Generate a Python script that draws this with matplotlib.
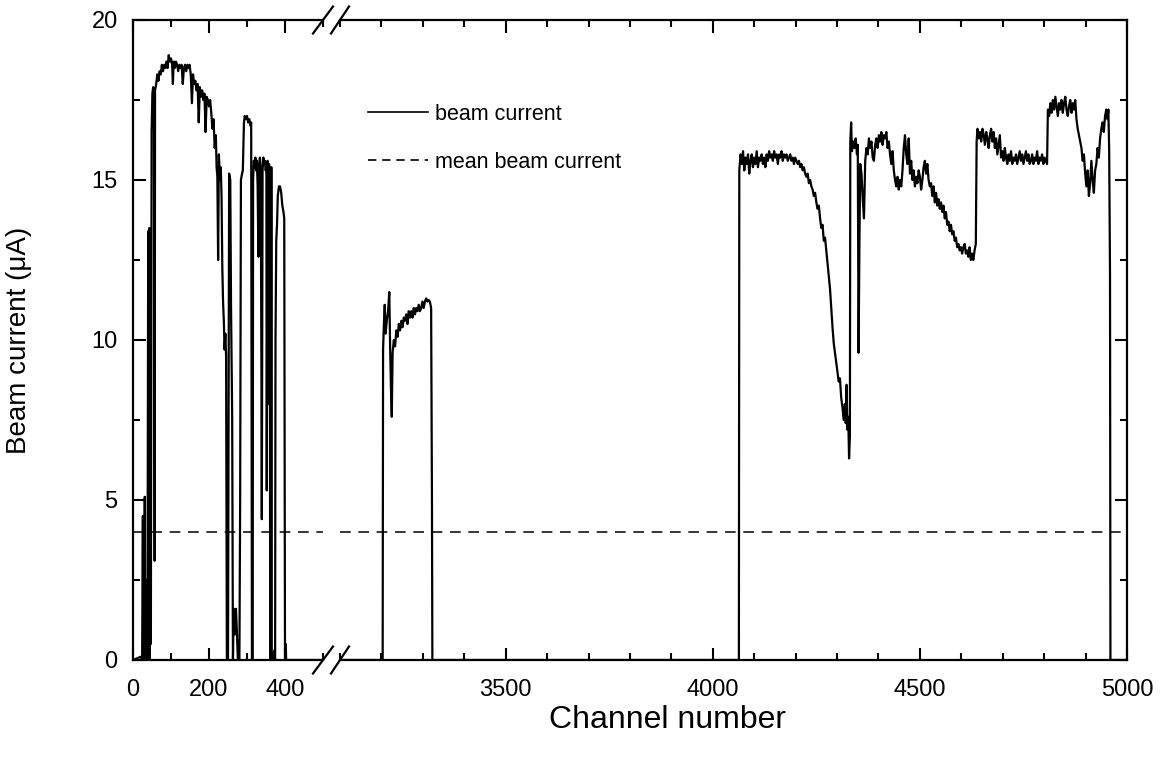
import numpy as np
import matplotlib.pyplot as plt
from matplotlib.lines import Line2D
from matplotlib.ticker import MultipleLocator, FormatStrFormatter

plt.rcParams['font.family'] = ['Liberation Sans', 'DejaVu Sans']

# first run (channels 0-400)
run1_channel = [0, 20, 24, 26, 27, 29, 31, 32, 34, 35, 37, 38, 40, 41, 43, 44, 46, 47, 49, 51,
                53, 55, 57, 58, 61, 64, 67, 70, 73, 76, 79, 82, 85, 88, 91, 94, 97, 100, 103, 105,
                107, 110, 113, 116, 119, 122, 125, 128, 131, 134, 137, 140, 143, 146, 149, 152, 155, 158, 161, 164,
                167, 170, 173, 176, 179, 182, 185, 188, 191, 194, 197, 200, 203, 206, 209, 212, 215, 218, 220, 222,
                224, 226, 229, 231, 233, 235, 237, 239, 241, 243, 245, 247, 250, 253, 256, 258, 261, 263, 265, 268,
                271, 273, 276, 280, 282, 284, 287, 289, 292, 294, 297, 300, 303, 306, 309, 311, 313, 315, 316, 318,
                320, 322, 324, 326, 328, 330, 332, 334, 336, 338, 339, 341, 343, 345, 347, 349, 351, 352, 354, 356,
                358, 360, 361, 363, 364, 365, 368, 372, 374, 375, 377, 379, 381, 384, 387, 390, 393, 396, 398, 400,
                402, 403]
run1_current = [0, 0.1, 0, 4.5, 0, 0.4, 5.1, 0, 2.5, 0, 1.5, 0, 13.4, 0.3, 13.5, 0, 9.5, 0.5, 16.5, 17.7,
                17.9, 17.7, 3.1, 17.8, 18.0, 18.3, 18.1, 18.4, 18.3, 18.6, 18.4, 18.6, 18.5, 18.7, 18.5, 18.9, 18.7, 18.8, 18.6, 18.0,
                18.7, 18.5, 18.7, 18.6, 18.4, 18.6, 18.5, 18.6, 18.0, 18.5, 18.6, 18.4, 18.6, 18.5, 18.6, 18.3, 17.4, 18.3, 18.0, 18.1,
                17.8, 18.0, 16.8, 17.9, 17.6, 17.8, 17.5, 17.7, 16.5, 17.6, 17.5, 17.3, 17.5, 17.1, 16.6, 16.9, 16.0, 16.4, 15.4, 15.1,
                12.5, 15.8, 15.0, 15.4, 14.5, 12.3, 11.2, 10.6, 9.7, 10.2, 9.5, 0, 0, 15.2, 15.0, 11.0, 7.6, 0, 1.6, 0.8,
                1.6, 1.0, 0, 0, 5.0, 15.0, 15.2, 15.3, 16.8, 17.0, 16.9, 17.0, 16.8, 16.9, 16.7, 16.8, 0, 0, 15.0, 15.6,
                15.4, 15.7, 15.3, 15.6, 14.8, 12.6, 15.5, 15.7, 15.4, 9.0, 4.4, 15.3, 15.7, 15.5, 15.6, 15.3, 15.4, 5.3, 15.6, 8.0,
                15.5, 15.2, 0, 0, 15.4, 0, 0, 0.3, 0, 10.0, 13.1, 13.6, 14.5, 14.8, 14.8, 14.6, 14.2, 14.0, 13.8, 0,
                0.5, 0]

# second run (channels ~3200-3320)
run2_channel = [3203, 3204, 3206, 3208, 3210, 3213, 3216, 3219, 3221, 3223, 3225, 3227, 3230, 3233, 3236, 3239,
                3242, 3245, 3248, 3251, 3254, 3257, 3260, 3263, 3266, 3269, 3272, 3275, 3278, 3281, 3284, 3287,
                3290, 3293, 3296, 3299, 3302, 3305, 3308, 3311, 3314, 3317, 3320, 3322, 3323]
run2_current = [0, 9.7, 10.5, 11.1, 10.2, 10.6, 10.9, 11.5, 9.8, 8.5, 7.6, 9.6, 10.0, 9.8, 10.3, 10.1,
                10.5, 10.3, 10.6, 10.4, 10.7, 10.6, 10.8, 10.5, 10.9, 10.7, 10.9, 10.7, 11.0, 10.8, 11.0, 10.9,
                11.1, 10.9, 11.0, 11.2, 11.0, 11.2, 11.3, 11.2, 11.25, 11.2, 11.0, 5.0, 0]

# third run (channels ~4064-4960)
run3_channel = [4063, 4064, 4067, 4070, 4073, 4076, 4079, 4082, 4085, 4088, 4091, 4094, 4097, 4100, 4103, 4106,
                4109, 4112, 4115, 4118, 4121, 4124, 4127, 4130, 4133, 4136, 4139, 4142, 4145, 4148, 4151, 4154,
                4157, 4160, 4163, 4166, 4169, 4172, 4175, 4178, 4181, 4184, 4187, 4190, 4193, 4196, 4199, 4202,
                4205, 4208, 4211, 4214, 4217, 4220, 4223, 4226, 4229, 4232, 4235, 4238, 4241, 4244, 4247, 4250,
                4253, 4256, 4259, 4262, 4265, 4268, 4271, 4274, 4277, 4280, 4283, 4286, 4289, 4292, 4295, 4298,
                4301, 4304, 4307, 4310, 4313, 4316, 4319, 4321, 4323, 4325, 4327, 4329, 4331, 4332, 4334, 4336,
                4339, 4342, 4345, 4348, 4350, 4352, 4354, 4356, 4359, 4362, 4365, 4368, 4371, 4374, 4377, 4380,
                4383, 4386, 4389, 4392, 4395, 4398, 4401, 4404, 4407, 4410, 4413, 4416, 4419, 4422, 4425, 4428,
                4431, 4434, 4437, 4440, 4443, 4446, 4449, 4452, 4455, 4458, 4461, 4464, 4467, 4470, 4473, 4476,
                4479, 4482, 4485, 4488, 4491, 4494, 4497, 4500, 4503, 4506, 4509, 4512, 4515, 4518, 4521, 4524,
                4527, 4530, 4533, 4536, 4539, 4542, 4545, 4548, 4551, 4554, 4557, 4560, 4563, 4566, 4569, 4572,
                4575, 4578, 4581, 4584, 4587, 4590, 4593, 4596, 4599, 4602, 4605, 4608, 4611, 4614, 4617, 4620,
                4623, 4626, 4629, 4632, 4635, 4637, 4639, 4642, 4645, 4648, 4651, 4654, 4657, 4660, 4663, 4666,
                4669, 4672, 4675, 4678, 4681, 4684, 4687, 4690, 4693, 4696, 4699, 4702, 4705, 4708, 4711, 4714,
                4717, 4720, 4723, 4726, 4729, 4732, 4735, 4738, 4741, 4744, 4747, 4750, 4753, 4756, 4759, 4762,
                4765, 4768, 4771, 4774, 4777, 4780, 4783, 4786, 4789, 4792, 4795, 4798, 4801, 4804, 4807, 4809,
                4812, 4815, 4818, 4821, 4824, 4827, 4830, 4833, 4836, 4839, 4842, 4845, 4848, 4851, 4854, 4857,
                4860, 4863, 4866, 4869, 4872, 4875, 4878, 4881, 4884, 4887, 4890, 4893, 4896, 4899, 4902, 4905,
                4908, 4911, 4914, 4917, 4920, 4923, 4926, 4929, 4932, 4935, 4938, 4941, 4944, 4947, 4950, 4953,
                4955, 4957, 4959, 4960]
run3_current = [0, 15.3, 15.8, 15.5, 15.9, 15.3, 15.7, 15.5, 15.8, 15.2, 15.6, 15.8, 15.4, 15.7, 15.5, 15.9,
                15.4, 15.7, 15.6, 15.8, 15.5, 15.7, 15.4, 15.8, 15.6, 15.9, 15.7, 15.8, 15.6, 15.9, 15.7, 15.8,
                15.5, 15.8, 15.7, 15.9, 15.6, 15.8, 15.7, 15.8, 15.6, 15.7, 15.8, 15.6, 15.7, 15.5, 15.7, 15.6,
                15.5, 15.6, 15.4, 15.5, 15.3, 15.4, 15.2, 15.1, 15.2, 14.9, 15.0, 14.8, 14.7, 14.5, 14.6, 14.3,
                14.1, 14.2, 13.8, 13.5, 13.6, 13.1, 13.2, 12.8, 12.4, 12.0, 11.6, 11.0, 10.4, 9.9, 9.6, 9.3,
                9.0, 8.7, 8.8, 8.2, 7.9, 7.5, 8.0, 7.4, 8.6, 7.2, 7.6, 6.3, 7.0, 16.2, 16.8, 15.9,
                16.2, 16.0, 16.3, 15.8, 16.1, 9.6, 13.0, 15.5, 15.2, 14.4, 13.8, 15.6, 16.0, 15.8, 16.3, 16.0,
                16.2, 15.7, 15.6, 16.1, 16.3, 16.0, 16.4, 16.2, 16.5, 16.1, 16.4, 16.3, 16.5, 16.0, 16.2, 15.8,
                15.5, 15.9, 15.3, 15.0, 14.8, 15.1, 14.7, 15.0, 14.8, 15.3, 16.0, 16.4, 15.8, 15.5, 16.3, 15.2,
                15.6, 15.0, 15.3, 14.8, 15.1, 14.9, 15.3, 15.1, 14.7, 15.0, 15.4, 15.6, 15.2, 15.5, 15.0, 14.8,
                14.9, 14.5, 14.8, 14.3, 14.6, 14.2, 14.4, 14.1, 14.3, 14.0, 14.2, 13.8, 14.0, 13.6, 13.7, 13.4,
                13.6, 13.3, 13.4, 13.1, 13.2, 12.9, 13.0, 12.8, 12.9, 12.7, 12.9, 13.0, 12.7, 12.8, 12.6, 12.9,
                12.5, 12.7, 12.5, 12.8, 13.0, 16.2, 16.6, 16.3, 16.5, 16.2, 16.6, 16.4, 16.1, 16.5, 16.3, 16.0,
                16.4, 16.6, 16.2, 16.5, 16.0, 16.3, 15.8, 16.1, 16.4, 15.7, 15.9, 15.6, 16.0, 15.7, 15.5, 15.8,
                15.6, 15.9, 15.5, 15.7, 15.6, 15.8, 15.5, 15.7, 15.9, 15.6, 15.8, 15.5, 15.7, 15.9, 15.6, 15.8,
                15.5, 15.6, 15.8, 15.5, 15.7, 15.6, 15.9, 15.5, 15.7, 15.6, 15.8, 15.5, 15.7, 15.6, 15.5, 17.2,
                17.0, 17.4, 17.1, 17.5, 17.2, 17.6, 17.3, 17.0, 17.4, 17.2, 17.5, 17.1, 17.4, 17.6, 17.2, 17.0,
                17.3, 17.5, 17.1, 17.4, 17.2, 17.5, 16.9, 16.6, 16.4, 16.2, 16.0, 15.6, 15.8, 15.2, 14.8, 15.3,
                14.5, 14.9, 15.6, 15.0, 14.6, 15.3, 15.5, 16.0, 15.7, 16.3, 16.6, 16.8, 16.5, 17.0, 17.2, 16.9,
                17.2, 15.9, 12.0, 0]

mean_current = 4.0

channel = np.concatenate([run1_channel, run2_channel, run3_channel, [5000]])
current = np.concatenate([run1_current, run2_current, run3_current, [0]])

W, H = 1163, 764
fig = plt.figure(figsize=(W / 100, H / 100), dpi=100)
bottom = (H - 660) / H
height = 640 / H
ax1 = fig.add_axes([133 / W, bottom, 190 / W, height])
ax2 = fig.add_axes([340 / W, bottom, 787 / W, height])

for ax in (ax1, ax2):
    ax.plot(channel, current, color='black', lw=1.6)
    ax.axhline(mean_current, color='black', lw=1.1, ls=(0, (7, 5)))
    ax.set_ylim(0, 20)
    ax.yaxis.set_major_locator(MultipleLocator(5))
    ax.yaxis.set_minor_locator(MultipleLocator(2.5))
    ax.tick_params(which='both', direction='in', top=True, width=1.5, labelsize=17, pad=11)
    ax.tick_params(axis='x', which='both', pad=14)
    ax.tick_params(which='major', length=9)
    ax.tick_params(which='minor', length=5)
    for sp in ax.spines.values():
        sp.set_linewidth(1.6)

ax1.set_xlim(0, 500)
ax1.xaxis.set_major_locator(MultipleLocator(200))
ax1.xaxis.set_minor_locator(MultipleLocator(100))
ax1.spines['right'].set_visible(False)
ax1.tick_params(which='both', right=False)

ax2.set_xlim(3100, 5000)
ax2.xaxis.set_major_locator(MultipleLocator(500))
ax2.xaxis.set_minor_locator(MultipleLocator(100))
ax2.spines['left'].set_visible(False)
ax2.tick_params(which='both', left=False, labelleft=False, right=True)
ax2.yaxis.set_major_formatter(FormatStrFormatter('%d'))

ax1.set_ylabel('Beam current (\u03bcA)', fontsize=20)
ax1.yaxis.set_label_coords(-0.53, 0.5)
fig.text(668 / W, 1 - 720 / H, 'Channel number', fontsize=23, ha='center', va='center')

# axis break marks
kw = dict(color='black', lw=1.6, clip_on=False)
dx1, dy = 10 / 190, 13.5 / 640
for y0 in (0, 1):
    ax1.plot([1 - dx1, 1 + dx1], [y0 - dy, y0 + dy], transform=ax1.transAxes, **kw)
    dx2 = 9 / 787
    ax2.plot([-dx2, dx2], [y0 - dy, y0 + dy], transform=ax2.transAxes, **kw)

handles = [Line2D([], [], color='black', lw=1.2),
           Line2D([], [], color='black', lw=1.2, ls=(0, (5, 3.5)))]
ax2.legend(handles, ['beam current', 'mean beam current'], loc='upper left',
           bbox_to_anchor=(368 / W, 1 - 104 / H), bbox_transform=fig.transFigure,
           frameon=False, fontsize=15.5, handlelength=2.8, handletextpad=0.3,
           labelspacing=1.25, borderpad=0, borderaxespad=0)

fig.savefig('out.png', dpi=100)
